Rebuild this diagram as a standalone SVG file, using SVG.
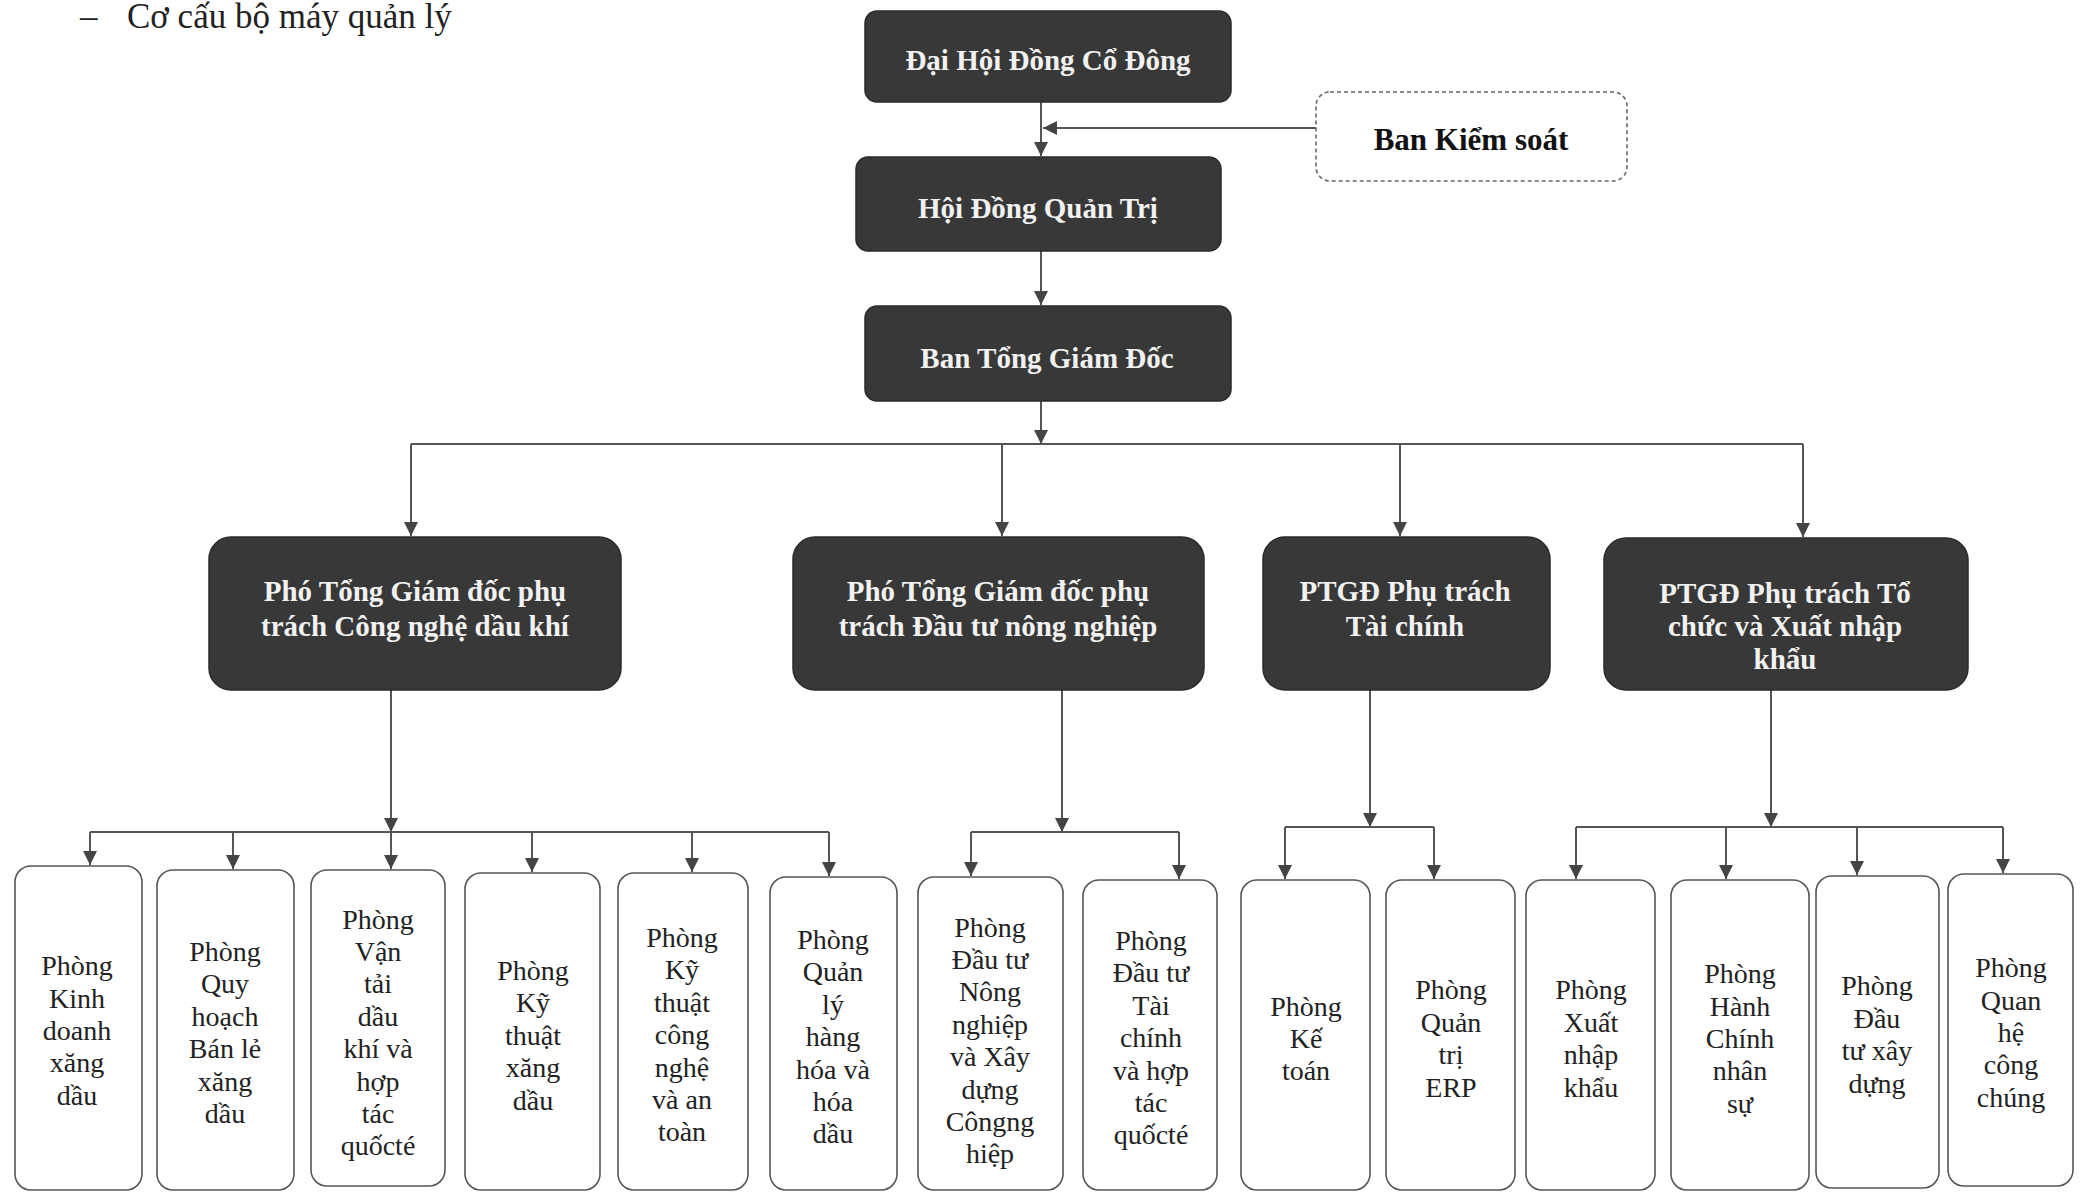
<svg xmlns="http://www.w3.org/2000/svg" width="2084" height="1193" viewBox="0 0 2084 1193">
<style>
.dark{fill:#383838;stroke:#2a2a2a;stroke-width:1.5}
.lite{fill:#ffffff;stroke:#555;stroke-width:1.6}
.dash{fill:#ffffff;stroke:#666;stroke-width:1.6;stroke-dasharray:4 3}
.wt{font-family:"Liberation Serif","Times New Roman",serif;font-weight:bold;font-size:29px;fill:#f2f2f2;text-anchor:middle}
.bt{font-family:"Liberation Serif","Times New Roman",serif;font-size:28px;fill:#222;text-anchor:middle}
.kt{font-family:"Liberation Serif","Times New Roman",serif;font-weight:bold;font-size:31px;fill:#111;text-anchor:middle}
.ln{fill:none;stroke:#555;stroke-width:2}
</style>
<defs>
<marker id="ah" markerUnits="userSpaceOnUse" markerWidth="14" markerHeight="16" refX="14" refY="7" orient="auto">
<path d="M0,0 L14,7 L0,14 Z" fill="#444"/>
</marker>
</defs>
<rect width="2084" height="1193" fill="#ffffff"/>
<text x="80" y="28" style="font-family:'Liberation Serif',serif;font-size:35px;fill:#222">–</text>
<text x="127" y="28" style="font-family:'Liberation Serif',serif;font-size:35px;fill:#222">Cơ cấu bộ máy quản lý</text>

<g id="connectors">
<path class="ln" d="M1041,102 V156" marker-end="url(#ah)"/>
<path class="ln" d="M1316,128 H1043" marker-end="url(#ah)"/>
<path class="ln" d="M1041,251 V305" marker-end="url(#ah)"/>
<path class="ln" d="M1041,401 V444" marker-end="url(#ah)"/>
<path class="ln" d="M411,444 H1803"/>
<path class="ln" d="M411,444 V536" marker-end="url(#ah)"/>
<path class="ln" d="M1002,444 V536" marker-end="url(#ah)"/>
<path class="ln" d="M1400,444 V536" marker-end="url(#ah)"/>
<path class="ln" d="M1803,444 V537" marker-end="url(#ah)"/>
<path class="ln" d="M391,690 V832" marker-end="url(#ah)"/>
<path class="ln" d="M90,832 H829"/>
<path class="ln" d="M90,832 V865" marker-end="url(#ah)"/>
<path class="ln" d="M233,832 V869" marker-end="url(#ah)"/>
<path class="ln" d="M391,832 V869" marker-end="url(#ah)"/>
<path class="ln" d="M532,832 V872" marker-end="url(#ah)"/>
<path class="ln" d="M692,832 V872" marker-end="url(#ah)"/>
<path class="ln" d="M829,832 V876" marker-end="url(#ah)"/>
<path class="ln" d="M1062,690 V832" marker-end="url(#ah)"/>
<path class="ln" d="M971,832 H1179"/>
<path class="ln" d="M971,832 V876" marker-end="url(#ah)"/>
<path class="ln" d="M1179,832 V879" marker-end="url(#ah)"/>
<path class="ln" d="M1370,690 V827" marker-end="url(#ah)"/>
<path class="ln" d="M1285,827 H1434"/>
<path class="ln" d="M1285,827 V879" marker-end="url(#ah)"/>
<path class="ln" d="M1434,827 V879" marker-end="url(#ah)"/>
<path class="ln" d="M1771,690 V827" marker-end="url(#ah)"/>
<path class="ln" d="M1576,827 H2003"/>
<path class="ln" d="M1576,827 V879" marker-end="url(#ah)"/>
<path class="ln" d="M1726,827 V879" marker-end="url(#ah)"/>
<path class="ln" d="M1857,827 V875" marker-end="url(#ah)"/>
<path class="ln" d="M2003,827 V873" marker-end="url(#ah)"/>
</g>

<g id="n-dhdcd"><rect class="dark" x="865" y="11" width="366" height="91" rx="12"/><text class="wt" x="1048" y="70">Đại Hội Đồng Cổ Đông</text></g>
<g id="n-bks"><rect class="dash" x="1316" y="92" width="311" height="89" rx="14"/><text class="kt" x="1471" y="150">Ban Kiểm soát</text></g>
<g id="n-hdqt"><rect class="dark" x="856" y="157" width="365" height="94" rx="12"/><text class="wt" x="1038" y="218">Hội Đồng Quản Trị</text></g>
<g id="n-btgd"><rect class="dark" x="865" y="306" width="366" height="95" rx="12"/><text class="wt" x="1047" y="368">Ban Tổng Giám Đốc</text></g>

<g id="n-ptgd1"><rect class="dark" x="209" y="537" width="412" height="153" rx="22"/><text class="wt"><tspan x="415" y="601">Phó Tổng Giám đốc phụ</tspan><tspan x="415" y="636">trách Công nghệ dầu khí</tspan></text></g>
<g id="n-ptgd2"><rect class="dark" x="793" y="537" width="411" height="153" rx="22"/><text class="wt"><tspan x="998" y="601">Phó Tổng Giám đốc phụ</tspan><tspan x="998" y="636">trách Đầu tư nông nghiệp</tspan></text></g>
<g id="n-ptgd3"><rect class="dark" x="1263" y="537" width="287" height="153" rx="22"/><text class="wt"><tspan x="1405" y="601">PTGĐ Phụ trách</tspan><tspan x="1405" y="636">Tài chính</tspan></text></g>
<g id="n-ptgd4"><rect class="dark" x="1604" y="538" width="364" height="152" rx="22"/><text class="wt"><tspan x="1785" y="603">PTGĐ Phụ trách Tổ</tspan><tspan x="1785" y="636">chức và Xuất nhập</tspan><tspan x="1785" y="669">khẩu</tspan></text></g>

<g id="n-b1"><rect class="lite" x="15" y="866" width="127" height="324" rx="16"/><text class="bt"><tspan x="77" y="975">Phòng</tspan><tspan x="77" y="1008">Kinh</tspan><tspan x="77" y="1040">doanh</tspan><tspan x="77" y="1072">xăng</tspan><tspan x="77" y="1105">dầu</tspan></text></g>
<g id="n-b2"><rect class="lite" x="157" y="870" width="137" height="320" rx="16"/><text class="bt"><tspan x="225" y="961">Phòng</tspan><tspan x="225" y="993">Quy</tspan><tspan x="225" y="1026">hoạch</tspan><tspan x="225" y="1058">Bán lẻ</tspan><tspan x="225" y="1091">xăng</tspan><tspan x="225" y="1123">dầu</tspan></text></g>
<g id="n-b3"><rect class="lite" x="311" y="870" width="134" height="316" rx="16"/><text class="bt"><tspan x="378" y="929">Phòng</tspan><tspan x="378" y="961">Vận</tspan><tspan x="378" y="993">tải</tspan><tspan x="378" y="1026">dầu</tspan><tspan x="378" y="1058">khí và</tspan><tspan x="378" y="1091">hợp</tspan><tspan x="378" y="1123">tác</tspan><tspan x="378" y="1155">quốcté</tspan></text></g>
<g id="n-b4"><rect class="lite" x="465" y="873" width="135" height="317" rx="16"/><text class="bt"><tspan x="533" y="980">Phòng</tspan><tspan x="533" y="1012">Kỹ</tspan><tspan x="533" y="1045">thuật</tspan><tspan x="533" y="1077">xăng</tspan><tspan x="533" y="1110">dầu</tspan></text></g>
<g id="n-b5"><rect class="lite" x="618" y="873" width="130" height="317" rx="16"/><text class="bt"><tspan x="682" y="947">Phòng</tspan><tspan x="682" y="979">Kỹ</tspan><tspan x="682" y="1012">thuật</tspan><tspan x="682" y="1044">công</tspan><tspan x="682" y="1077">nghệ</tspan><tspan x="682" y="1109">và an</tspan><tspan x="682" y="1141">toàn</tspan></text></g>
<g id="n-b6"><rect class="lite" x="770" y="877" width="127" height="313" rx="16"/><text class="bt"><tspan x="833" y="949">Phòng</tspan><tspan x="833" y="981">Quản</tspan><tspan x="833" y="1014">lý</tspan><tspan x="833" y="1046">hàng</tspan><tspan x="833" y="1079">hóa và</tspan><tspan x="833" y="1111">hóa</tspan><tspan x="833" y="1143">dầu</tspan></text></g>
<g id="n-b7"><rect class="lite" x="918" y="877" width="145" height="313" rx="16"/><text class="bt"><tspan x="990" y="937">Phòng</tspan><tspan x="990" y="969">Đầu tư</tspan><tspan x="990" y="1001">Nông</tspan><tspan x="990" y="1034">nghiệp</tspan><tspan x="990" y="1066">và Xây</tspan><tspan x="990" y="1099">dựng</tspan><tspan x="990" y="1131">Côngng</tspan><tspan x="990" y="1163">hiệp</tspan></text></g>
<g id="n-b8"><rect class="lite" x="1083" y="880" width="134" height="310" rx="16"/><text class="bt"><tspan x="1151" y="950">Phòng</tspan><tspan x="1151" y="982">Đầu tư</tspan><tspan x="1151" y="1015">Tài</tspan><tspan x="1151" y="1047">chính</tspan><tspan x="1151" y="1080">và hợp</tspan><tspan x="1151" y="1112">tác</tspan><tspan x="1151" y="1144">quốcté</tspan></text></g>
<g id="n-b9"><rect class="lite" x="1241" y="880" width="129" height="310" rx="16"/><text class="bt"><tspan x="1306" y="1016">Phòng</tspan><tspan x="1306" y="1048">Kế</tspan><tspan x="1306" y="1080">toán</tspan></text></g>
<g id="n-b10"><rect class="lite" x="1386" y="880" width="129" height="310" rx="16"/><text class="bt"><tspan x="1451" y="999">Phòng</tspan><tspan x="1451" y="1032">Quản</tspan><tspan x="1451" y="1064">trị</tspan><tspan x="1451" y="1097">ERP</tspan></text></g>
<g id="n-b11"><rect class="lite" x="1526" y="880" width="129" height="310" rx="16"/><text class="bt"><tspan x="1591" y="999">Phòng</tspan><tspan x="1591" y="1032">Xuất</tspan><tspan x="1591" y="1064">nhập</tspan><tspan x="1591" y="1097">khẩu</tspan></text></g>
<g id="n-b12"><rect class="lite" x="1671" y="880" width="138" height="310" rx="16"/><text class="bt"><tspan x="1740" y="983">Phòng</tspan><tspan x="1740" y="1016">Hành</tspan><tspan x="1740" y="1048">Chính</tspan><tspan x="1740" y="1080">nhân</tspan><tspan x="1740" y="1113">sự</tspan></text></g>
<g id="n-b13"><rect class="lite" x="1816" y="876" width="123" height="312" rx="16"/><text class="bt"><tspan x="1877" y="995">Phòng</tspan><tspan x="1877" y="1028">Đầu</tspan><tspan x="1877" y="1060">tư xây</tspan><tspan x="1877" y="1093">dựng</tspan></text></g>
<g id="n-b14"><rect class="lite" x="1948" y="874" width="125" height="312" rx="16"/><text class="bt"><tspan x="2011" y="977">Phòng</tspan><tspan x="2011" y="1010">Quan</tspan><tspan x="2011" y="1042">hệ</tspan><tspan x="2011" y="1074">công</tspan><tspan x="2011" y="1107">chúng</tspan></text></g>
</svg>
